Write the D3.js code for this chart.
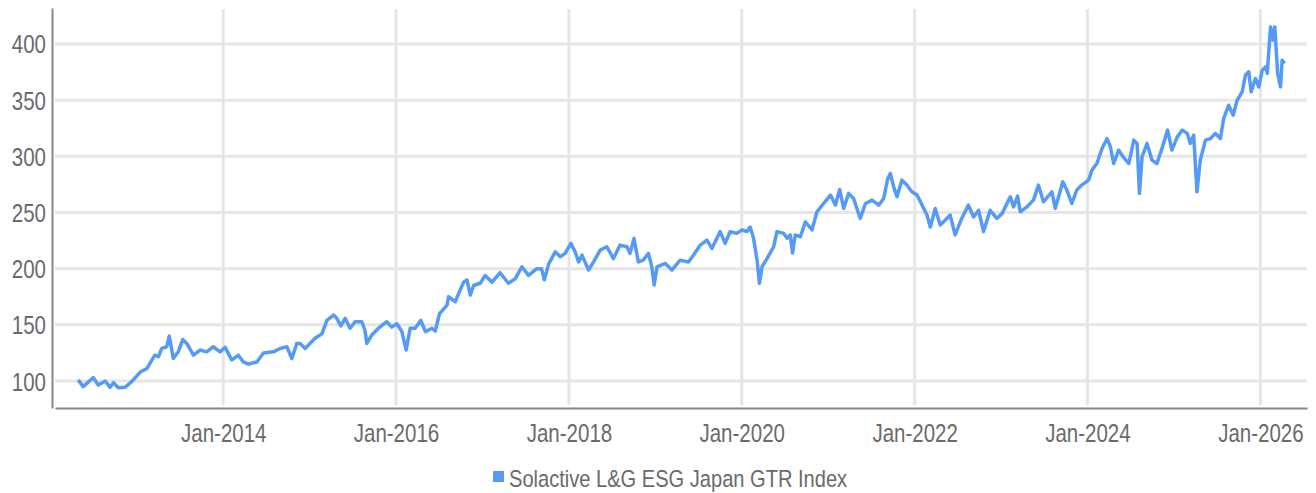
<!DOCTYPE html>
<html>
<head>
<meta charset="utf-8">
<script src="https://cdn.jsdelivr.net/npm/d3@7"></script>
<style>
  body { margin: 0; background: #fff; }
  svg text { font-family: "Liberation Sans Narrow", "Liberation Sans", sans-serif; fill: #6a6a6a; }
</style>
</head>
<body>
<svg id="chart" width="1316" height="493"></svg>
<script>
const seriesName = 'Solactive L&G ESG Japan GTR Index';

const dates = [
  '2012-04-28','2012-05-19','2012-07-01','2012-07-22','2012-08-20','2012-09-10','2012-09-24','2012-10-15',
  '2012-11-12','2012-12-10','2013-01-15','2013-02-12','2013-03-18','2013-04-02','2013-04-16','2013-05-07',
  '2013-05-18','2013-06-04','2013-06-25','2013-07-14','2013-07-31','2013-08-28','2013-09-25','2013-10-23',
  '2013-11-20','2013-12-18','2014-01-09','2014-02-06','2014-03-06','2014-03-27','2014-04-17','2014-05-23',
  '2014-06-20','2014-08-01','2014-08-29','2014-09-27','2014-10-18','2014-11-08','2014-11-22','2014-12-13',
  '2015-01-24','2015-02-22','2015-03-15','2015-04-12','2015-04-26','2015-05-13','2015-05-31','2015-06-21',
  '2015-07-12','2015-08-10','2015-08-23','2015-08-31','2015-09-21','2015-10-19','2015-11-23','2015-12-14',
  '2016-01-05','2016-01-26','2016-02-13','2016-03-01','2016-03-22','2016-04-15','2016-05-04','2016-06-01',
  '2016-06-15','2016-07-03','2016-08-04','2016-08-10','2016-09-08','2016-09-22','2016-10-13','2016-10-27',
  '2016-11-10','2016-11-24','2016-12-22','2017-01-12','2017-02-10','2017-03-16','2017-04-20','2017-05-19',
  '2017-06-16','2017-07-14','2017-08-18','2017-09-07','2017-09-19','2017-10-07','2017-11-04','2017-11-25',
  '2017-12-16','2018-01-09','2018-01-27','2018-02-11','2018-02-25','2018-03-25','2018-04-15','2018-05-13',
  '2018-06-10','2018-07-08','2018-08-05','2018-09-03','2018-09-16','2018-10-03','2018-10-21','2018-11-11',
  '2018-12-03','2018-12-17','2018-12-27','2019-01-08','2019-02-12','2019-03-12','2019-04-16','2019-05-21',
  '2019-06-11','2019-07-10','2019-08-07','2019-08-28','2019-10-02','2019-10-23','2019-11-13','2019-12-11',
  '2020-01-02','2020-01-23','2020-02-06','2020-02-20','2020-03-06','2020-03-16','2020-03-27','2020-04-17',
  '2020-05-15','2020-05-29','2020-06-26','2020-07-11','2020-07-24','2020-08-03','2020-08-14','2020-09-05',
  '2020-09-26','2020-10-24','2020-11-14','2020-12-12','2021-01-10','2021-01-31','2021-02-18','2021-03-07',
  '2021-03-28','2021-04-18','2021-05-16','2021-06-07','2021-07-05','2021-08-02','2021-08-23','2021-09-09',
  '2021-09-20','2021-10-04','2021-10-18','2021-11-08','2021-11-29','2021-12-20','2022-01-11','2022-02-01',
  '2022-02-22','2022-03-08','2022-03-29','2022-04-19','2022-05-10','2022-05-31','2022-06-21','2022-07-19',
  '2022-08-16','2022-09-07','2022-09-28','2022-10-19','2022-11-16','2022-12-14','2023-01-05','2023-02-09',
  '2023-02-23','2023-03-12','2023-03-23','2023-04-20','2023-05-18','2023-06-08','2023-06-29','2023-08-04',
  '2023-08-18','2023-09-19','2023-10-06','2023-10-27','2023-11-17','2023-12-08','2024-01-06','2024-01-20',
  '2024-02-10','2024-03-03','2024-03-24','2024-04-07','2024-04-21','2024-05-12','2024-05-31','2024-06-24',
  '2024-07-15','2024-07-29','2024-08-08','2024-08-19','2024-09-09','2024-09-30','2024-10-21','2024-11-11',
  '2024-12-05','2024-12-23','2025-01-15','2025-02-05','2025-02-26','2025-03-11','2025-03-25','2025-04-08',
  '2025-04-22','2025-05-14','2025-06-04','2025-06-25','2025-07-16','2025-07-30','2025-08-20','2025-09-08',
  '2025-09-25','2025-10-16','2025-10-30','2025-11-13','2025-11-23','2025-12-11','2025-12-25','2026-01-09',
  '2026-01-23','2026-01-30','2026-02-13','2026-02-24','2026-03-03','2026-03-15','2026-03-27','2026-04-03',
  '2026-04-13'
];

const values = [
  101, 95, 103, 96.4, 100, 94.4, 98.5, 94,
  94.4, 99.4, 108, 111, 123, 121.6, 129, 130.5,
  140, 120, 126, 137, 133.5, 123, 127.6, 126,
  130.5, 126, 130, 118.7, 123, 117, 115, 117,
  125, 126, 129, 130.5, 120, 133.5, 133.5, 129,
  138, 142, 154, 158.7, 155.8, 149, 155.8, 147,
  152.8, 152.8, 145, 133.5, 141, 147, 152.8, 148,
  151, 144, 127.6, 147, 147, 154, 144, 147,
  144.5, 160, 167.6, 175, 170.6, 178, 188, 190,
  176.5, 185, 187, 194, 188, 196.4, 187, 191,
  201.7, 194, 200, 200, 190, 204, 215, 210.6,
  213.6, 222.5, 215, 206, 212, 198.8, 206, 216.5,
  219.5, 209, 221, 219.5, 213.6, 227, 206, 207.6,
  213.6, 201.7, 185.4, 201.7, 204.7, 198.8, 207.6, 206,
  212, 221, 225.5, 218, 233, 222.5, 233, 231.4,
  234.4, 233, 237, 227, 207.6, 187, 201.7, 209,
  219.5, 233, 231.4, 227, 230, 214, 230, 228.4,
  241.7, 234.4, 250.6, 258, 265.5, 256.6, 270.5, 253.6,
  267, 262.5, 244.7, 258, 261, 256.6, 262.5, 280,
  284.7, 273, 264, 278.8, 274.4, 268.4, 265.5, 256.6,
  247.7, 237, 253.6, 238.8, 243.2, 247.7, 230, 244.7,
  256.6, 246, 252, 233, 252, 244.7, 249, 264,
  255, 264.6, 250.6, 255, 261, 274.4, 259.5, 268.4,
  253.6, 277.3, 270, 258, 270, 274.4, 278.8, 287.7,
  293.6, 307, 315.8, 308.5, 293.6, 305.5, 299.6, 293.6,
  314.4, 311.5, 267, 299.6, 311.5, 296.6, 293.6, 307,
  323.3, 305.5, 317.3, 323.3, 320.4, 311.5, 318.8, 268.4,
  296.6, 314.4, 315.8, 320.4, 315.8, 333.7, 345.5, 336.6,
  350, 357.4, 372.3, 375.2, 357.4, 369.3, 361.8, 376.7,
  379.6, 373.8, 415.2, 403.4, 415.2, 373.8, 361.8, 385.6,
  382.6
];

const yTicks = [100, 150, 200, 250, 300, 350, 400];
const xTickYears = [2014, 2016, 2018, 2020, 2022, 2024, 2026];

const lineColor = '#559bf5';
const narrow = 0.82;   // squeeze Liberation Sans to a narrow face
const parse = d3.timeParse('%Y-%m-%d');
const data = dates.map((d, i) => ({ date: parse(d), value: values[i] }));

const plot = { left: 55, right: 1307, top: 8, bottom: 408 };
const svg = d3.select('#chart');

const x = d3.scaleTime()
    .domain([parse('2012-01-21'), parse('2026-07-17')])
    .range([plot.left, plot.right]);
const y = d3.scaleLinear()
    .domain([76, 432])
    .range([plot.bottom, plot.top]);

// grid
svg.append('g')
    .selectAll('line')
    .data(yTicks).enter().append('line')
    .attr('x1', plot.left).attr('x2', plot.right)
    .attr('y1', d => y(d)).attr('y2', d => y(d))
    .attr('stroke', '#e6e6e6').attr('stroke-width', 3);
svg.append('g')
    .selectAll('line')
    .data(xTickYears).enter().append('line')
    .attr('x1', d => x(new Date(d, 0, 1))).attr('x2', d => x(new Date(d, 0, 1)))
    .attr('y1', plot.top + 1).attr('y2', plot.bottom - 3)
    .attr('stroke', '#e6e6e6').attr('stroke-width', 3);

// axes
const yAxis = svg.append('g')
    .attr('transform', `translate(${plot.left - 3},0)`)
    .call(d3.axisLeft(y).tickValues(yTicks).tickSize(0).tickPadding(6));
yAxis.select('.domain').attr('stroke', '#888').attr('stroke-width', 2);
yAxis.selectAll('text')
    .style('font-size', '25px')
    .attr('fill', '#6a6a6a')
    .attr('dy', '0.36em')
    .attr('x', -6 / narrow)
    .attr('transform', `scale(${narrow},1)`);

const xAxis = svg.append('g')
    .attr('transform', `translate(0,${plot.bottom})`)
    .call(d3.axisBottom(x)
        .tickValues(xTickYears.map(d => new Date(d, 0, 1)))
        .tickFormat(d3.timeFormat('%b-%Y'))
        .tickSize(0).tickPadding(16));
xAxis.select('.domain').attr('stroke', '#888').attr('stroke-width', 2);
xAxis.selectAll('text')
    .style('font-size', '25px')
    .attr('fill', '#6a6a6a')
    .attr('transform', `scale(${narrow},1)`);

// series
const line = d3.line()
    .x(d => x(d.date))
    .y(d => y(d.value));
svg.append('path')
    .datum(data)
    .attr('fill', 'none')
    .attr('stroke', lineColor)
    .attr('stroke-width', 3.5)
    .attr('stroke-linejoin', 'round')
    .attr('d', line);

// legend
svg.append('rect')
    .attr('x', 493).attr('y', 471)
    .attr('width', 11).attr('height', 11)
    .attr('fill', lineColor);
svg.append('text')
    .attr('transform', `translate(509,487) scale(${narrow},1)`)
    .style('font-size', '24.5px')
    .text(seriesName);
</script>
</body>
</html>
